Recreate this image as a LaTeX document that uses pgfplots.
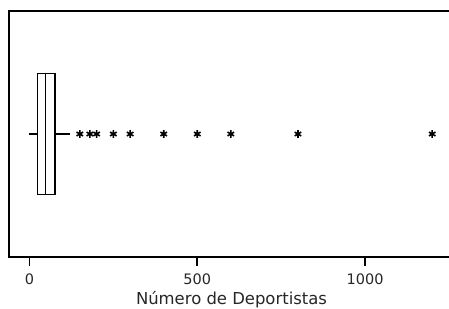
\documentclass[border=0pt]{standalone}
\usepackage{pgfplots}
\pgfplotsset{compat=1.18}
\usepgfplotslibrary{statistics}
\usepackage{fontspec}
\setmainfont{DejaVu Sans}
\begin{document}
\begin{tikzpicture}
\useasboundingbox (-9bp,-52bp) rectangle (440bp,257bp);
\begin{axis}[
  scale only axis, width=445bp, height=246bp,
  at={(0,0)}, anchor=south west,
  xmin=-61, xmax=1265, ymin=0.5, ymax=1.5,
  clip=false,
  axis line style={line width=1.6bp, black},
  xtick={0,500,1000}, ytick=\empty,
  xtick pos=bottom, xtick align=outside,
  xtick style={line width=1.6bp, black},
  major tick length=9bp,
  /pgf/number format/assume math mode=true,
  /pgf/number format/1000 sep={},
  ticklabel style={font=\fontsize{14.5}{14.5}\selectfont, text=black!85},
  xticklabel style={yshift=-4bp},
  xlabel={Número de Deportistas},
  xlabel style={font=\fontsize{16.5}{16.5}\selectfont, text=black!85, yshift=0bp},
]
\addplot+[black, line width=1.2bp, mark=asterisk, mark size=3.8bp,
  mark options={line width=1.6bp, black},
  boxplot prepared={draw position=1, lower whisker=0, lower quartile=24,
    median=48, upper quartile=76, upper whisker=122,
    box extend=0.49, whisker extend=0, draw direction=x}]
  coordinates {(0,150) (0,180) (0,200) (0,250) (0,300) (0,400) (0,500) (0,600) (0,800) (0,1200)};
\coordinate (t0) at (axis cs:0,0.5);
\coordinate (t1) at (axis cs:500,0.5);
\coordinate (t2) at (axis cs:1000,0.5);
\end{axis}
\draw[line width=1.6bp, black] (t0) -- ++(0,-9bp);
\draw[line width=1.6bp, black] (t1) -- ++(0,-9bp);
\draw[line width=1.6bp, black] (t2) -- ++(0,-9bp);
\end{tikzpicture}
\end{document}
